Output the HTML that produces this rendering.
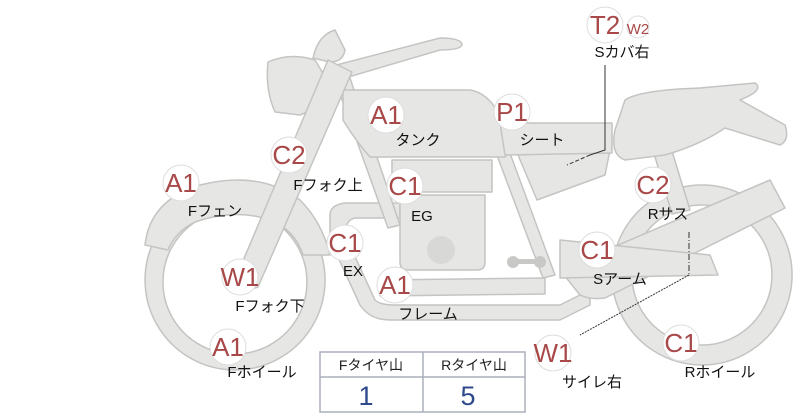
<!DOCTYPE html>
<html><head><meta charset="utf-8"><style>
body{margin:0;width:800px;height:414px;background:#fff;overflow:hidden;font-family:"Liberation Sans","Noto Sans CJK JP",sans-serif}
svg{position:absolute;left:0;top:0}
</style></head><body>
<svg width="800" height="414" viewBox="0 0 800 414">
<g fill="#e6e6e4" stroke="#c4c4c2" stroke-width="1.5" stroke-linejoin="round">
<!-- rear wheel -->
<path fill-rule="evenodd" d="M702,185a90,90 0 1,0 0.1,0zM702,205a70,70 0 1,1 -0.1,0z"/>
<!-- front wheel -->
<path fill-rule="evenodd" d="M235,190a90,90 0 1,0 0.1,0zM235,210a72,72 0 1,1 -0.1,0z"/>
<!-- front fender -->
<path d="M145,245 Q150,200 200,185 Q260,170 300,200 Q322,222 330,255 L303,255 Q295,230 270,220 Q235,208 195,222 Q175,232 168,250 Z"/>
<!-- exhaust/frame lower -->
<path d="M330,215 Q330,205 345,203 L400,203 L400,218 L355,218 Q345,220 345,235 L375,300 Q380,305 395,305 L560,305 L590,290 L590,305 L560,320 L390,320 Q370,320 360,305 L330,240 Z"/>
<path d="M380,280 L545,278 L545,294 L380,296 Z"/>
<!-- rear exhaust -->
<path d="M560,270 L770,180 L785,208 L605,298 Q590,300 580,295 Z"/>
<path d="M560,240 L710,255 L718,275 L560,278 Z"/>
<!-- frame tubes -->
<path d="M335,80 L350,78 L400,225 L388,228 Z"/>
<path d="M495,150 L508,148 L555,275 L543,278 Z"/>
<!-- engine -->
<path d="M400,195 L485,195 L485,262 Q485,270 477,270 L408,270 Q400,270 400,262 Z"/>
<path d="M392,160 L492,160 L492,192 L392,192 Z"/>
<circle cx="441" cy="250" r="14" fill="#d8d8d6" stroke="none"/>
<!-- seat lower -->
<path d="M518,155 L610,150 L605,175 L537,200 Z"/>
<!-- rear sus -->
<path d="M650,140 L668,138 L690,210 L672,214 Z"/>
<!-- tank -->
<path d="M343,90 L470,90 Q500,95 510,150 L505,157 L370,157 Q355,140 343,120 Z"/>
<!-- seat -->
<path d="M500,123 L612,123 L612,153 L505,155 Z"/>
<!-- rear cowl -->
<path d="M625,100 Q640,90 700,88 L755,83 Q765,90 740,100 L785,125 Q790,140 780,145 L725,128 Q700,145 665,155 L625,160 Q610,155 615,130 Z"/>
<!-- headlight -->
<path d="M268,62 Q290,52 315,60 L330,85 Q328,105 300,115 L275,112 Q265,90 268,62 Z"/>
<path d="M313,58 Q318,35 335,30 L345,50 Q343,62 330,62 Z"/>
<!-- handlebar -->
<path d="M325,68 L440,38 Q462,38 462,45 Q460,50 440,50 L345,78 L330,85 Z"/>
<!-- fork -->
<path d="M328,60 L352,72 L258,287 Q245,292 234,282 Z"/>
</g>
<circle cx="513" cy="262" r="6" fill="#c8c8c6"/><circle cx="540" cy="262" r="6" fill="#c8c8c6"/>
<rect x="513" y="259" width="27" height="5" fill="#c8c8c6"/>
<!-- leader lines -->
<g stroke="#333" stroke-width="1" fill="none">
<path d="M605,65 L605,150 L590,155" />
<path d="M590,155 L567,165" stroke-dasharray="4,2"/>
<path d="M689,232 L689,275" stroke-dasharray="6,2,1,2"/>
<path d="M689,275 L580,335" stroke-dasharray="2,1"/>
</g>
<!-- badges -->
<g fill="#fff" stroke="#ddd" stroke-width="1">
<circle cx="605" cy="25" r="18"/><circle cx="638" cy="27" r="11"/>
<circle cx="386" cy="115" r="18"/><circle cx="512" cy="112" r="18"/>
<circle cx="289" cy="155" r="18"/><circle cx="181" cy="183" r="18"/>
<circle cx="405" cy="186" r="18"/><circle cx="653" cy="185" r="18"/>
<circle cx="345" cy="243" r="18"/><circle cx="597" cy="250" r="18"/>
<circle cx="240" cy="277" r="18"/><circle cx="395" cy="285" r="18"/>
<circle cx="553" cy="353" r="18"/><circle cx="228" cy="347" r="18"/>
<circle cx="681" cy="343" r="18"/>
</g>
<g fill="#a84848" font-size="26" text-anchor="middle" font-family="Liberation Sans,sans-serif">
<text x="605" y="34">T2</text><text x="638" y="34" font-size="15">W2</text>
<text x="386" y="124">A1</text><text x="512" y="121">P1</text>
<text x="289" y="164">C2</text><text x="181" y="192">A1</text>
<text x="405" y="195">C1</text><text x="653" y="194">C2</text>
<text x="345" y="252">C1</text><text x="597" y="259">C1</text>
<text x="240" y="286">W1</text><text x="395" y="294">A1</text>
<text x="553" y="362">W1</text><text x="228" y="356">A1</text>
<text x="681" y="352">C1</text>
</g>
<g fill="#111" font-size="15" text-anchor="middle" font-family="Liberation Sans,Noto Sans CJK JP,sans-serif">
<text x="418" y="145">タンク</text><text x="542" y="145">シート</text>
<text x="622" y="57">Sカバ右</text><text x="328" y="190">Fフォク上</text>
<text x="215" y="216">Fフェン</text><text x="422" y="221">EG</text>
<text x="668" y="219">Rサス</text><text x="353" y="276">EX</text>
<text x="620" y="284">Sアーム</text><text x="270" y="311">Fフォク下</text>
<text x="428" y="319">フレーム</text><text x="262" y="377">Fホイール</text>
<text x="592" y="387">サイレ右</text><text x="720" y="377">Rホイール</text>
</g>
<!-- table -->
<g stroke="#aab0bc" stroke-width="1.5" fill="none">
<rect x="320" y="352" width="205" height="60"/>
<line x1="320" y1="377" x2="525" y2="377"/>
<line x1="423" y1="352" x2="423" y2="412"/>
</g>
<g font-size="14" fill="#222" text-anchor="middle" font-family="Liberation Sans,Noto Sans CJK JP,sans-serif">
<text x="371" y="370">Fタイヤ山</text><text x="474" y="370">Rタイヤ山</text>
</g>
<g font-size="27" fill="#2f4a8a" text-anchor="middle" font-family="Liberation Sans,sans-serif">
<text x="366" y="405">1</text><text x="468" y="405">5</text>
</g>
</svg>
</body></html>
